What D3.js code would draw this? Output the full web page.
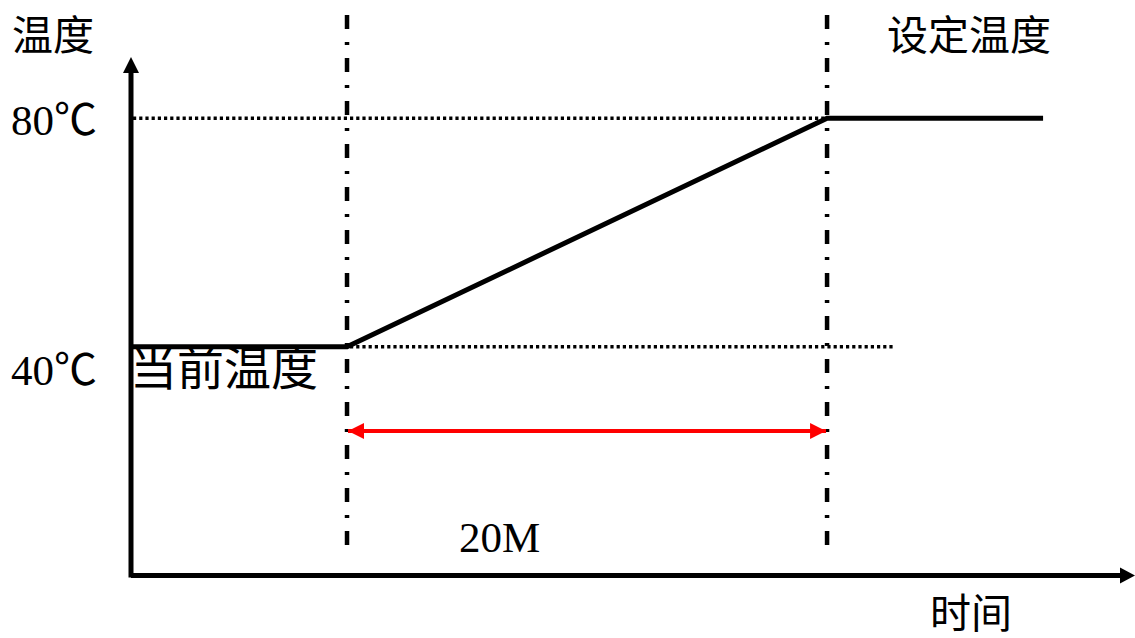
<!DOCTYPE html>
<html>
<head>
<meta charset="utf-8">
<script src="https://cdn.jsdelivr.net/npm/d3@7"></script>
<style>
  body { margin: 0; background: #fff; }
  text { font-family: "Liberation Serif", "Noto Sans CJK SC", serif; fill: #000; }
</style>
</head>
<body>
<svg id="chart" width="1135" height="638"></svg>
<script>
// time in minutes, temperature in degC
const timePoints = [0, 9, 29, 38];
const tempPoints = [40, 40, 80, 80];
const markerTimes = [9, 29];        // dash-dot verticals
const refTemps = [40, 80];          // dotted horizontals
const refEnds = [31.8, 29];         // where each dotted line stops
const tickLabels = ["40℃", "80℃"];
const spanLabel = "20M";

const svg = d3.select("#chart");

const x = d3.scaleLinear().domain([0, 41.83]).range([131, 1135]);
const y = d3.scaleLinear().domain([0, 90.7]).range([575.5, 57]);

const defs = svg.append("defs");
defs.append("marker")
  .attr("id", "redArrow")
  .attr("viewBox", "0 0 10 10")
  .attr("refX", 10).attr("refY", 5)
  .attr("markerUnits", "userSpaceOnUse")
  .attr("markerWidth", 16).attr("markerHeight", 17)
  .attr("orient", "auto-start-reverse")
  .append("path").attr("d", "M0,0L10,5L0,10Z").attr("fill", "#ff0000");

// dotted reference lines
svg.selectAll(".ref")
  .data(refTemps)
  .enter()
  .append("line")
  .attr("x1", x(0) + 2)
  .attr("x2", (d, i) => x(refEnds[i]))
  .attr("y1", (d) => y(d))
  .attr("y2", (d) => y(d))
  .attr("stroke", "#000")
  .attr("stroke-width", 3.5)
  .attr("stroke-dasharray", "3.2,3");

// dash-dot verticals
svg.selectAll(".marker")
  .data(markerTimes)
  .enter()
  .append("line")
  .attr("x1", (d) => x(d))
  .attr("x2", (d) => x(d))
  .attr("y1", 15)
  .attr("y2", 555)
  .attr("stroke", "#000")
  .attr("stroke-width", 4.5)
  .attr("stroke-dasharray", "14,13,3,13");

// temperature profile
svg.append("path")
  .datum(d3.zip(timePoints, tempPoints))
  .attr("d", d3.line().x((d) => x(d[0])).y((d) => y(d[1])))
  .attr("fill", "none")
  .attr("stroke", "#000")
  .attr("stroke-width", 5);

// red span arrow
svg.append("line")
  .attr("x1", x(markerTimes[0]) + 1)
  .attr("x2", x(markerTimes[1]) - 1)
  .attr("y1", 431)
  .attr("y2", 431)
  .attr("stroke", "#ff0000")
  .attr("stroke-width", 4)
  .attr("marker-start", "url(#redArrow)")
  .attr("marker-end", "url(#redArrow)");

// axes
svg.append("line")
  .attr("x1", x(0)).attr("x2", x(0))
  .attr("y1", y(0) + 2).attr("y2", y(90.7) + 12)
  .attr("stroke", "#000").attr("stroke-width", 5);
svg.append("path")
  .attr("d", `M${x(0)},${y(90.7)}L${x(0) - 8},${y(90.7) + 16}L${x(0) + 8},${y(90.7) + 16}Z`)
  .attr("fill", "#000");

svg.append("line")
  .attr("x1", x(0)).attr("x2", x(41.83) - 10)
  .attr("y1", y(0)).attr("y2", y(0))
  .attr("stroke", "#000").attr("stroke-width", 5);
svg.append("path")
  .attr("d", `M${x(41.83)},${y(0)}L${x(41.83) - 15},${y(0) - 8}L${x(41.83) - 15},${y(0) + 8}Z`)
  .attr("fill", "#000");

// labels
svg.selectAll(".tick-label")
  .data(refTemps)
  .enter()
  .append("text")
  .attr("x", 11)
  .attr("y", (d) => y(d) + (d === 80 ? 17 : 38))
  .style("font-size", "43px")
  .text((d, i) => tickLabels[i]);

svg.append("text").attr("x", 12).attr("y", 50).style("font-size", "41px").text("温度");
svg.append("text").attr("x", 887).attr("y", 50).style("font-size", "41px").text("设定温度");
svg.append("text").attr("x", 130).attr("y", 385).style("font-size", "47px").text("当前温度");
svg.append("text").attr("x", 459).attr("y", 552).style("font-size", "43px").text(spanLabel);
svg.append("text").attr("x", 930).attr("y", 628).style("font-size", "41px").text("时间");
</script>
</body>
</html>
